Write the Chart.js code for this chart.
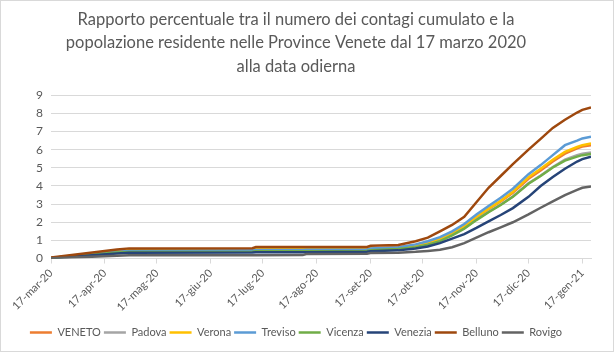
<!DOCTYPE html>
<html>
<head>
<meta charset="utf-8">
<script src="https://cdn.jsdelivr.net/npm/chart.js@4"></script>
<style>
  body { margin: 0; background: #fff; }
  #box { width: 612px; height: 350px; border: 1px solid #d9d9d9; }
</style>
</head>
<body>
<div id="box"><canvas id="myChart" width="612" height="350"></canvas></div>
<script>
// giorni dal 17-mar-20
const days = [0, 38, 45, 116, 118, 145, 147, 182, 184, 200, 210, 217, 224, 231, 238, 245, 252, 259, 266, 275, 282, 289, 296, 303, 306, 311];

const tickDays = [0, 31, 61, 92, 122, 153, 184, 214, 245, 275, 306];
const tickLabels = ["17-mar-20", "17-apr-20", "17-mag-20", "17-giu-20", "17-lug-20", "17-ago-20",
                    "17-set-20", "17-ott-20", "17-nov-20", "17-dic-20", "17-gen-21"];

const names = ["VENETO", "Padova", "Verona", "Treviso", "Vicenza", "Venezia", "Belluno", "Rovigo"];
const colors = ["#ED7D31", "#A5A5A5", "#FFC000", "#5B9BD5", "#70AD47", "#264478", "#9E480E", "#636363"];

const veneto  = [0.03, 0.40, 0.45, 0.47, 0.50, 0.50, 0.50, 0.52, 0.55, 0.60, 0.72, 0.88, 1.08, 1.40, 1.78, 2.28, 2.72, 3.15, 3.62, 4.40, 4.85, 5.35, 5.78, 6.08, 6.17, 6.25];
const padova  = [0.03, 0.36, 0.40, 0.42, 0.44, 0.44, 0.44, 0.46, 0.50, 0.55, 0.66, 0.82, 1.02, 1.32, 1.68, 2.15, 2.58, 2.98, 3.42, 4.15, 4.58, 5.05, 5.45, 5.70, 5.78, 5.85];
const verona  = [0.03, 0.43, 0.47, 0.49, 0.51, 0.51, 0.51, 0.53, 0.56, 0.61, 0.74, 0.90, 1.10, 1.42, 1.80, 2.30, 2.75, 3.18, 3.68, 4.48, 4.95, 5.45, 5.88, 6.15, 6.25, 6.35];
const treviso = [0.03, 0.38, 0.42, 0.45, 0.47, 0.47, 0.48, 0.50, 0.55, 0.62, 0.78, 0.95, 1.18, 1.50, 1.90, 2.43, 2.90, 3.35, 3.85, 4.65, 5.15, 5.70, 6.25, 6.50, 6.62, 6.72];
const vicenza = [0.02, 0.33, 0.36, 0.38, 0.40, 0.40, 0.40, 0.42, 0.46, 0.52, 0.62, 0.76, 0.96, 1.28, 1.65, 2.12, 2.55, 2.95, 3.40, 4.12, 4.55, 5.02, 5.40, 5.62, 5.70, 5.76];
const venezia = [0.02, 0.28, 0.32, 0.33, 0.35, 0.35, 0.35, 0.37, 0.40, 0.45, 0.55, 0.66, 0.85, 1.10, 1.35, 1.69, 2.05, 2.40, 2.78, 3.40, 4.00, 4.50, 4.95, 5.35, 5.48, 5.62];
const belluno = [0.05, 0.50, 0.56, 0.57, 0.63, 0.63, 0.63, 0.64, 0.70, 0.75, 0.95, 1.15, 1.50, 1.85, 2.30, 3.10, 3.90, 4.55, 5.20, 6.00, 6.60, 7.20, 7.65, 8.05, 8.20, 8.33];
const rovigo  = [0.01, 0.15, 0.18, 0.18, 0.18, 0.19, 0.25, 0.27, 0.30, 0.32, 0.37, 0.42, 0.48, 0.62, 0.85, 1.15, 1.45, 1.72, 2.00, 2.43, 2.80, 3.15, 3.50, 3.78, 3.90, 3.97];

const series = [veneto, padova, verona, treviso, vicenza, venezia, belluno, rovigo];

const grey = "#595959";
const font = "Lato";

new Chart("myChart", {
    type: "line",
    data: {
        datasets: series.map((vals, i) => ({
            label: names[i],
            data: vals.map((v, j) => ({x: days[j], y: v})),
            borderColor: colors[i],
            backgroundColor: colors[i],
            borderWidth: 2.5,
            pointRadius: 0,
            fill: false,
            order: series.length - i
        }))
    },
    options: {
        responsive: false,
        animation: false,
        layout: {padding: {left: 0, right: 22, bottom: 3}},
        plugins: {
            title: {
                display: true,
                text: ["Rapporto percentuale tra il numero dei contagi cumulato e la",
                       "popolazione residente nelle Province Venete dal 17 marzo 2020",
                       "alla data odierna"],
                color: grey,
                font: {family: font, size: 16.5, weight: "normal", lineHeight: 1.42},
                padding: {top: 7, bottom: 17}
            },
            legend: {
                position: "bottom",
                labels: {
                    usePointStyle: true,
                    pointStyle: "line",
                    pointStyleWidth: 22,
                    padding: 3,
                    color: grey,
                    font: {family: font, size: 11},
                    sort: (a, b) => a.datasetIndex - b.datasetIndex
                }
            },
            tooltip: {enabled: false}
        },
        scales: {
            x: {
                type: "linear",
                min: 0,
                max: 311,
                afterBuildTicks: (scale) => { scale.ticks = tickDays.map(v => ({value: v})); },
                afterFit: (scale) => { scale.height += 7; },
                ticks: {
                    autoSkip: false,
                    minRotation: 45,
                    maxRotation: 45,
                    color: grey,
                    font: {family: font, size: 11},
                    callback: (value) => tickLabels[tickDays.indexOf(value)]
                },
                grid: {drawOnChartArea: false, color: "#d9d9d9", tickLength: 5},
                border: {color: "#d9d9d9"}
            },
            y: {
                min: 0,
                max: 9,
                ticks: {stepSize: 1, color: grey, font: {family: font, size: 12}, padding: 8},
                grid: {color: "#d9d9d9", drawTicks: false},
                border: {display: false},
                afterFit: (scale) => { scale.width = 50; }
            }
        }
    }
});
</script>
</body>
</html>
